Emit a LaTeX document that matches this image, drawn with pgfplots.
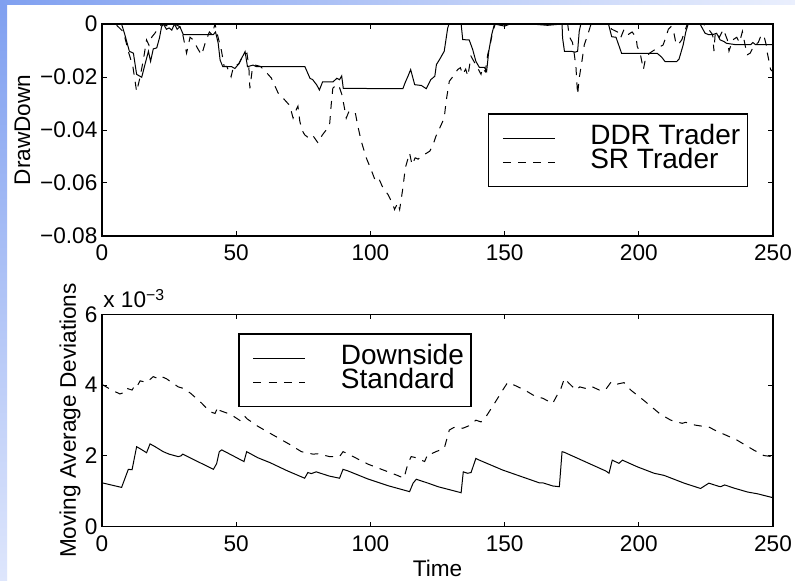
\documentclass[border=0pt]{standalone}
\usepackage{fontspec}
\setmainfont{Liberation Sans}
\usepackage{pgfplots}
\pgfplotsset{compat=1.18}

\definecolor{bgA}{RGB}{128,160,240}
\definecolor{bgB}{RGB}{222,230,252}
\definecolor{bgC}{RGB}{234,239,253}

\pgfplotsset{
  mlab/.style={
    scale only axis, width=335.5pt,
    xmin=0, xmax=250, xtick={0,50,100,150,200,250},
    scaled ticks=false,
    tick align=inside, major tick length=2.5pt,
    axis line style={line width=0.6pt},
    every tick/.style={black, line width=0.5pt},
    tick label style={font=\fontsize{11.3}{13}\selectfont},
    xticklabel style={yshift=-0.8pt},
    yticklabel style={xshift=1.2pt},
    label style={font=\fontsize{11.3}{13}\selectfont},
    /pgf/number format/assume math mode=true,
    clip mode=individual,
    legend style={draw=black, line width=0.6pt, fill=white,
      font=\fontsize{14}{14}\selectfont,
      inner xsep=3.5pt, inner ysep=6.2pt, row sep=0pt,
      cells={anchor=west},
      nodes={inner sep=0pt, text height=9.2pt, text depth=2.8pt},
      /tikz/every odd column/.append style={column sep=17.5pt}},
    legend image code/.code={\path (0pt,0pt); \draw[##1] (3.5pt,0pt) -- (29.5pt,0pt);},
  },
  ddr/.style={black, line width=0.5pt},
  srd/.style={black, line width=0.5pt, dash pattern=on 4pt off 3.6pt},
}

\begin{document}
\begin{tikzpicture}
% slide background
\path[use as bounding box] (0,0) rectangle (397.5pt,-290.5pt);
\fill[white] (0,0) rectangle (397.5pt,-290.5pt);
\fill[left color=bgA, right color=bgC] (0,0) rectangle (397.5pt,-2.5pt);
\fill[top color=bgA, bottom color=bgB] (0,-2.5pt) rectangle (3.5pt,-290.5pt);

% drawdown panel
\begin{axis}[mlab,
  at={(51pt,-118pt)}, anchor=south west, height=106pt,
  ymin=-0.08, ymax=0,
  ytick={-0.08,-0.06,-0.04,-0.02,0},
  yticklabels={−0.08,−0.06,−0.04,−0.02,0},
  ylabel={DrawDown},
  ylabel style={at={(axis description cs:-0.1185,0.5)}, anchor=center},
  legend style={at={(axis cs:143.7,-0.0337)}, anchor=north west},
]
\addplot[ddr] coordinates {
 (0,0) (7.3,0) (8.5,-0.004) (10.2,-0.0103) (11.7,-0.011) (12.9,-0.019) (14.8,-0.0201)
 (16,-0.0153) (17.3,-0.0103) (18.1,-0.0141) (19.1,-0.0094) (20.4,-0.009) (21.4,-0.0053)
 (22.2,-0.001) (22.9,0) (24,-0.002) (25,-0.0015) (26,-0.0023) (27,0) (28,-0.002) (29,-0.001)
 (30.3,-0.004) (41.5,-0.004) (42.3,-0.003) (43.3,-0.0073) (44,-0.0136) (45,-0.0161)
 (48.3,-0.0161) (49.5,-0.0168) (51,-0.015) (52.5,-0.012) (53.3,-0.0104) (54.2,-0.0161)
 (56.3,-0.0155) (57.5,-0.0161) (75.6,-0.0161) (77.5,-0.0205) (78.5,-0.021) (80,-0.023)
 (81,-0.0249) (82.2,-0.0218) (86.1,-0.0218) (87.5,-0.0205) (88.5,-0.021) (89.3,-0.0196)
 (89.9,-0.0243) (112.1,-0.0244) (113,-0.022) (114,-0.0197) (115,-0.0172) (116.5,-0.0229)
 (119,-0.0232) (120.8,-0.0244) (122.5,-0.021) (124,-0.0197) (124.6,-0.0153) (125.7,-0.0135)
 (127.5,-0.0103) (128.8,-0.0015) (129.3,0) (133.8,0) (134.4,-0.0059) (136.8,-0.006)
 (138.1,-0.0096) (139.3,-0.0141) (140.6,-0.0164) (142.5,-0.0164) (143.3,-0.0179)
 (144.1,-0.0103) (145.2,-0.004) (146.2,0) (150,-0.0008) (152,0) (160,0) (166,-0.0005)
 (171.4,0) (171.6,-0.0053) (172.3,-0.0103) (174.7,-0.0103) (176.3,-0.0106) (177.2,-0.0103)
 (177.8,-0.0028) (178.4,0) (188.7,0) (189.9,-0.0048) (191.5,-0.005) (193.6,-0.0111)
 (206.9,-0.0111) (208.5,-0.0125) (209.8,-0.0142) (214.1,-0.0142) (215,-0.0132)
 (216.5,-0.008) (217.5,-0.003) (218.4,0) (222.8,0) (224.7,-0.0035) (226,-0.004)
 (227.5,-0.004) (229,-0.0035) (230.3,-0.006) (231.7,-0.0066) (232.7,-0.0073)
 (236.1,-0.0078) (241.7,-0.0078) (242.5,-0.007) (243.5,-0.0078) (250,-0.0078)
};
\addlegendentry{DDR Trader}
\addplot[srd] coordinates {
 (0,0) (5,0) (8,-0.003) (10,-0.011) (11.5,-0.016) (12.9,-0.0255) (14.2,-0.020) (15.5,-0.013)
 (16.6,-0.006) (17.5,-0.008) (18.5,-0.005) (19.7,-0.0035) (21,-0.0015) (22.5,0) (25,-0.001)
 (27,0) (29,-0.001) (30,-0.0035) (31.5,-0.011) (32.8,-0.005) (34,-0.006) (35.5,-0.009)
 (37.1,-0.0117) (38.5,-0.007) (40,-0.003) (41,-0.004) (42.1,0) (43,-0.004) (44.5,-0.010)
 (45.5,-0.016) (46.5,-0.016) (48.1,-0.0199) (49,-0.016) (51,-0.015) (52.5,-0.012)
 (54,-0.011) (54.7,-0.016) (55.1,-0.0243) (56,-0.017) (57,-0.0155) (59,-0.016) (61,-0.018)
 (63.1,-0.0204) (65.6,-0.026) (67.4,-0.0279) (69.9,-0.0307) (71.2,-0.0355) (72.5,-0.032)
 (73,-0.031) (73.7,-0.0367) (74.5,-0.040) (75.5,-0.0418) (77,-0.043) (78.5,-0.042)
 (80.5,-0.0449) (82,-0.042) (83.6,-0.0399) (84.8,-0.038) (85.4,-0.0304) (86,-0.0242)
 (87.5,-0.0228) (88.5,-0.024) (89.4,-0.0267) (90.2,-0.031) (91,-0.0355) (92,-0.033)
 (93.5,-0.033) (94.4,-0.0336) (95.2,-0.038) (96.6,-0.0443) (98.5,-0.0506) (100.5,-0.0556)
 (101.7,-0.0588) (103,-0.058) (104.7,-0.0619) (106.6,-0.0644) (108.4,-0.0682) (109,-0.070)
 (110.2,-0.0675) (110.9,-0.070) (112.1,-0.0619) (113,-0.0543) (114.6,-0.0487)
 (115.5,-0.0531) (116.7,-0.0505) (117.8,-0.051) (119,-0.0499) (120.5,-0.049) (122.1,-0.048)
 (123.2,-0.046) (124.4,-0.0424) (125.5,-0.040) (127.5,-0.0355) (128.2,-0.0292)
 (129.4,-0.0216) (131.3,-0.0191) (132.5,-0.0172) (133.5,-0.0165) (134.4,-0.019)
 (135.5,-0.017) (136.3,-0.0197) (137.5,-0.0122) (138.5,-0.014) (140,-0.0166) (141.2,-0.019)
 (141.8,-0.0166) (142.8,-0.018) (143.7,-0.0116) (144.6,-0.0078) (145.6,-0.0028) (146.5,0)
 (160,0) (173.5,0) (174.1,-0.0047) (175.3,-0.007) (176,-0.0116) (176.6,-0.0166)
 (177.2,-0.0267) (177.8,-0.0204) (178.8,-0.0141) (179.7,-0.0078) (181,-0.004) (182.2,0)
 (188,0) (190,-0.002) (192,-0.003) (193.2,-0.0053) (194.5,-0.002) (196,-0.004) (197.5,-0.003)
 (199,-0.005) (199.4,-0.0084) (200.5,-0.011) (201.7,-0.0172) (202.5,-0.013) (204,-0.011)
 (207,-0.009) (209,-0.008) (210,-0.0053) (211,-0.002) (212,-0.001) (213,-0.003)
 (213.7,-0.0066) (214.5,-0.008) (216,-0.006) (217,-0.003) (218.1,0) (224,0) (226,-0.002)
 (227.5,-0.004) (228,-0.0102) (228.5,-0.003) (230,-0.005) (231.5,-0.002) (233,-0.006)
 (233.6,-0.0102) (235,-0.006) (236.5,-0.005) (237.5,-0.007) (238.6,-0.0028) (239.8,-0.009)
 (240.4,-0.0116) (241.5,-0.011) (243,-0.008) (244.5,-0.007) (245.4,-0.0047) (246.5,-0.004)
 (247.5,-0.008) (247.9,-0.011) (248.5,-0.014) (249.1,-0.0172) (250,-0.018)
};
\addlegendentry{SR Trader}
\end{axis}

% moving average deviations panel (values in units of 1e-3)
\begin{axis}[mlab,
  at={(51pt,-263.35pt)}, anchor=south west, height=106.2pt,
  ymin=0, ymax=6, ytick={0,2,4,6},
  xlabel={Time},
  xlabel style={at={(axis description cs:0.5,-0.1945)}, anchor=center},
  ylabel={Moving Average Deviations},
  ylabel style={at={(axis description cs:-0.0477,0.5)}, anchor=center},
  legend style={at={(axis cs:50.8,5.46)}, anchor=north west},
]
\addplot[ddr] coordinates {
 (0,1.24) (7.3,1.11) (9.8,1.62) (11.2,1.61) (12.9,2.26) (14.5,2.19) (16.6,2.09) (17.9,2.34)
 (19.8,2.26) (22.8,2.12) (25,2.05) (28.4,1.98) (29.4,2.0) (30.1,2.05) (33,1.94) (37,1.79)
 (41.5,1.62) (42.7,1.78) (43.7,2.12) (44.6,2.17) (48.9,2.0) (52.9,1.84) (53.9,2.12)
 (58,1.95) (62.6,1.81) (69,1.58) (75.5,1.37) (76.7,1.53) (78,1.50) (79.8,1.55) (84.7,1.43)
 (88.5,1.37) (89.8,1.62) (91.5,1.58) (99,1.35) (106.5,1.16) (114.6,0.99) (115.9,1.23)
 (117.1,1.34) (121.5,1.23) (125.2,1.13) (133.8,0.96) (134.6,1.55) (136.2,1.51)
 (137.5,1.53) (139.3,1.93) (140.6,1.88) (149.3,1.60) (158,1.37) (162.9,1.24) (164.2,1.24)
 (168,1.15) (170.4,1.13) (171.4,2.12) (172.3,2.10) (187.8,1.57) (188.9,1.51) (190.1,1.88)
 (192.6,1.79) (193.9,1.88) (199.5,1.69) (205.7,1.51) (209.4,1.45) (216.9,1.23) (223,1.08)
 (226.1,1.23) (229.8,1.14) (230.5,1.13) (232,1.18) (235.5,1.09) (240.5,0.98) (244.2,0.93)
 (250,0.82)
};
\addlegendentry{Downside}
\addplot[srd] coordinates {
 (0,4.02) (3.6,3.86) (6.7,3.75) (8.5,3.80) (9.2,3.91) (11.2,3.86) (12.3,4.0) (13,3.96)
 (14.2,4.12) (16.5,4.08) (17.9,4.16) (19.1,4.24) (21,4.18) (22.2,4.24) (24,4.18)
 (28.4,3.95) (30.2,3.91) (33,3.77) (37,3.50) (40.2,3.25) (42.1,3.20) (43.3,3.39) (44,3.28)
 (48,3.17) (52,2.97) (53.3,3.11) (54,3.05) (58,2.84) (62.6,2.64) (69.8,2.33) (74.3,2.12)
 (78.6,2.05) (80.5,2.06) (84.8,1.98) (88.5,1.98) (89.8,2.12) (91,2.08) (99,1.77)
 (109.7,1.46) (112.5,1.37) (114,1.79) (115.2,1.98) (117,1.95) (120.2,1.84) (121.5,2.07)
 (123,2.07) (124.4,2.12) (127.5,2.21) (129.4,2.73) (131,2.80) (132.5,2.82) (134.4,2.78)
 (137,2.86) (139.3,3.01) (141.2,2.96) (143,3.10) (146.2,3.48) (149.3,3.86) (151.1,4.07)
 (153.6,4.0) (157.5,3.86) (161.7,3.67) (164.2,3.63) (167.9,3.48) (169.6,3.72) (171,3.91)
 (172.3,4.19) (174,4.05) (176.6,3.86) (178,3.95) (180.5,3.90) (182.4,3.96) (185.3,3.86)
 (187.5,3.86) (189.8,4.10) (192,4.03) (194.5,4.07) (197,3.86) (202,3.56) (208,3.18)
 (211.9,3.01) (216.2,2.92) (217.4,2.95) (221,2.87) (223.5,2.84) (226,2.82) (228.5,2.72)
 (236.5,2.45) (242.7,2.17) (246.6,2.01) (249.7,1.98) (250,1.98)
};
\addlegendentry{Standard}
\end{axis}

% exponent of the lower panel
\node[anchor=base west, inner sep=0pt, font=\fontsize{11.3}{13}\selectfont]
  at (51.5pt,-154pt) {x 10\textsuperscript{−3}};
\end{tikzpicture}
\end{document}
